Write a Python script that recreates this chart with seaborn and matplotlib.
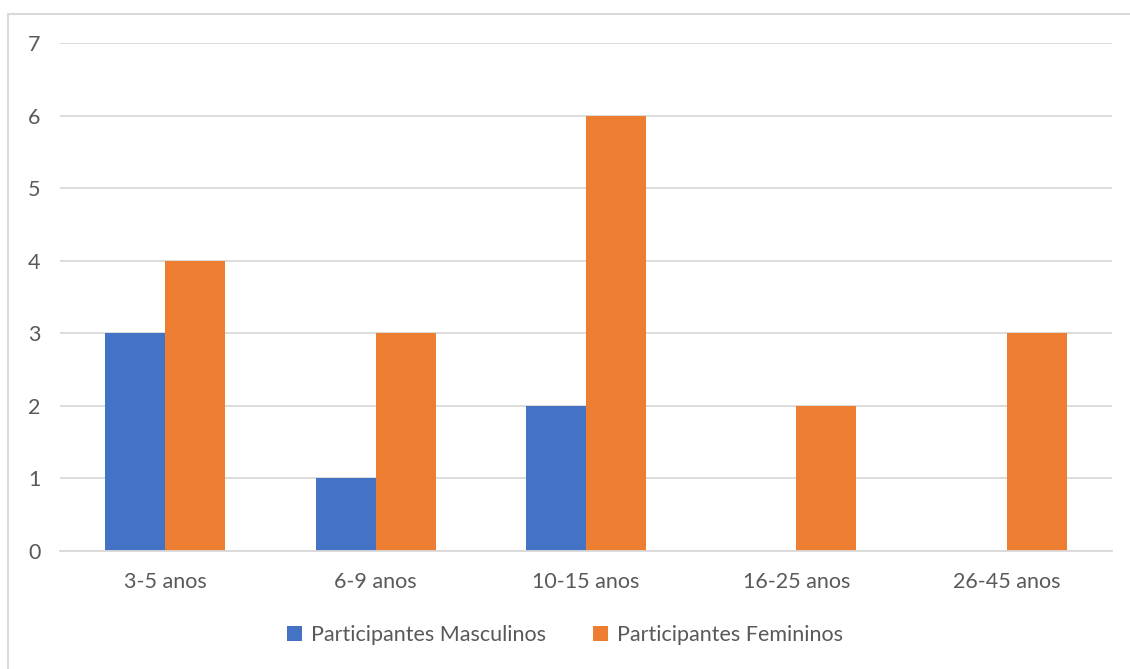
import matplotlib
matplotlib.use("Agg")
import matplotlib.pyplot as plt
import seaborn as sns
import pandas as pd
from matplotlib.patches import Rectangle, Patch

categories = ["3-5 anos", "6-9 anos", "10-15 anos", "16-25 anos", "26-45 anos"]
masculinos = [3, 1, 2, 0, 0]
femininos = [4, 3, 6, 2, 3]
series_names = ["Participantes Masculinos", "Participantes Femininos"]
colors = ["#4472C4", "#ED7D31"]
y_ticks = [0, 1, 2, 3, 4, 5, 6, 7]

df = pd.DataFrame({
    "faixa": categories * 2,
    "valor": masculinos + femininos,
    "serie": [series_names[0]] * len(categories) + [series_names[1]] * len(categories),
})

sns.set_style("white")
plt.rcParams["font.family"] = ["Lato", "DejaVu Sans"]

fig = plt.figure(figsize=(11.3, 6.69), dpi=100)
ax = fig.add_axes([60 / 1130, 1 - 551 / 669, (1112 - 60) / 1130, (551 - 43) / 669])

sns.barplot(data=df, x="faixa", y="valor", hue="serie", palette=colors,
            width=0.57, ax=ax, legend=False, saturation=1, linewidth=0)

ax.set_ylim(0, 7)
ax.set_yticks(y_ticks)
ax.set_xlim(-0.5, len(categories) - 0.5)
ax.yaxis.grid(True, color="#D9D9D9", linewidth=1.3)
ax.set_axisbelow(True)
for s in ["left", "right", "top"]:
    ax.spines[s].set_visible(False)
ax.spines["bottom"].set_color("#D9D9D9")
ax.spines["bottom"].set_linewidth(1.3)
ax.tick_params(axis="both", length=0, labelsize=15.5, labelcolor="#595959")
ax.tick_params(axis="y", pad=14)
ax.tick_params(axis="x", pad=15)
ax.set_xlabel("")
ax.set_ylabel("")

handles = [Patch(facecolor=c, edgecolor="none") for c in colors]
fig.legend(handles, series_names, loc="center", bbox_to_anchor=(0.5, 1 - 635 / 669),
           ncol=2, frameon=False, fontsize=15.5, handlelength=0.7, handleheight=0.7,
           columnspacing=2.2, handletextpad=0.4, labelcolor="#595959")

fig.patches.append(Rectangle((7.5 / 1130, -0.05), 1.2, 1 - 13.5 / 669 + 0.05,
                             transform=fig.transFigure, fill=False,
                             edgecolor="#D9D9D9", linewidth=1.5))

fig.savefig("out.png", dpi=100, facecolor="white")
